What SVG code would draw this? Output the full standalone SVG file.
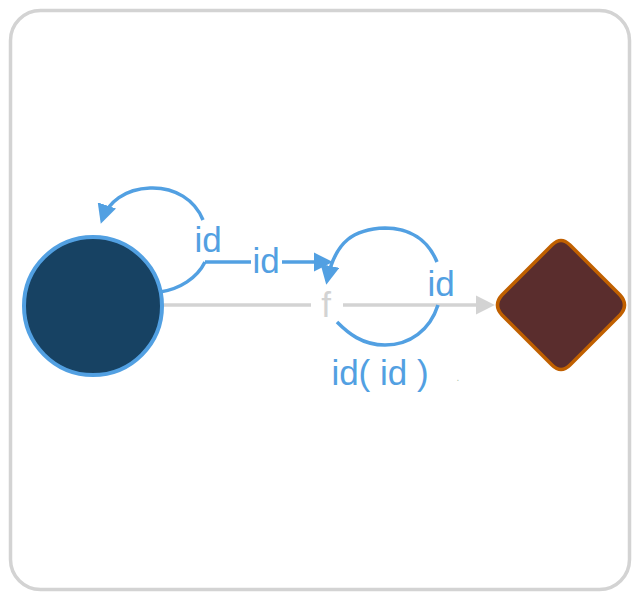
<svg xmlns="http://www.w3.org/2000/svg" width="640" height="600" viewBox="0 0 640 600">
<style>
.lbl{font-family:"Liberation Sans",Arial,sans-serif;font-size:35px;fill:#52a0e2;text-anchor:middle;dominant-baseline:central}
.blue{fill:none;stroke:#52a0e2;stroke-width:3.5}
.gray{fill:none;stroke:#d3d3d3;stroke-width:3.5}
</style>
<defs>
<marker id="ab" viewBox="0 0 10 10" refX="8" refY="5" markerWidth="5.5" markerHeight="5.5" orient="auto" markerUnits="strokeWidth"><path d="M0,0L10,5L0,10z" fill="#52a0e2"/></marker>
<marker id="ag" viewBox="0 0 10 10" refX="8" refY="5" markerWidth="5.5" markerHeight="5.5" orient="auto" markerUnits="strokeWidth"><path d="M0,0L10,5L0,10z" fill="#d3d3d3"/></marker>
</defs>
<rect x="10.5" y="10.5" width="619" height="579" rx="30" fill="#fff" stroke="#d3d3d3" stroke-width="3.5"/>
<g id="connectors">
<path class="gray" d="M163,305H311"/>
<path class="gray" d="M343,305H491" marker-end="url(#ag)"/>
<path class="blue" d="M160,292C180,289 197,278 205,262"/>
<path class="blue" d="M203,220C195,200 175,187 150,188C125,189 108,202 102,220" marker-end="url(#ab)"/>
<path class="blue" d="M205,262H251"/>
<path class="blue" d="M282,262H329" marker-end="url(#ab)"/>
<path class="blue" d="M437,262C428,240 410,228 385,228C355,229 335,240 327,281" marker-end="url(#ab)"/>
<path class="blue" d="M438,305C430,330 410,345 385,345C362,345 348,333 337,322"/>
</g>
<g id="n1"><circle cx="93" cy="306" r="69" fill="#174263" stroke="#52a0e2" stroke-width="4"/></g>
<g id="n2"><text x="326" y="304" class="lbl" style="fill:#d3d3d3">f</text></g>
<g id="n3"><path d="M552,245Q561,236 570,245L620,295Q629,305 620,315L570,365Q561,374 552,365L502,315Q493,305 502,295Z" fill="#5a2d2d" stroke="#c06000" stroke-width="3.5"/></g>
<g id="labels">
<text x="208" y="239" class="lbl">id</text>
<text x="266" y="260" class="lbl">id</text>
<text x="441" y="283" class="lbl">id</text>
<text x="380" y="372" class="lbl">id( id )</text>
<text x="458" y="381" style="font-family:'Liberation Sans',sans-serif;font-size:10px;fill:#b0c8b0;text-anchor:middle">.</text>
</g>
</svg>
